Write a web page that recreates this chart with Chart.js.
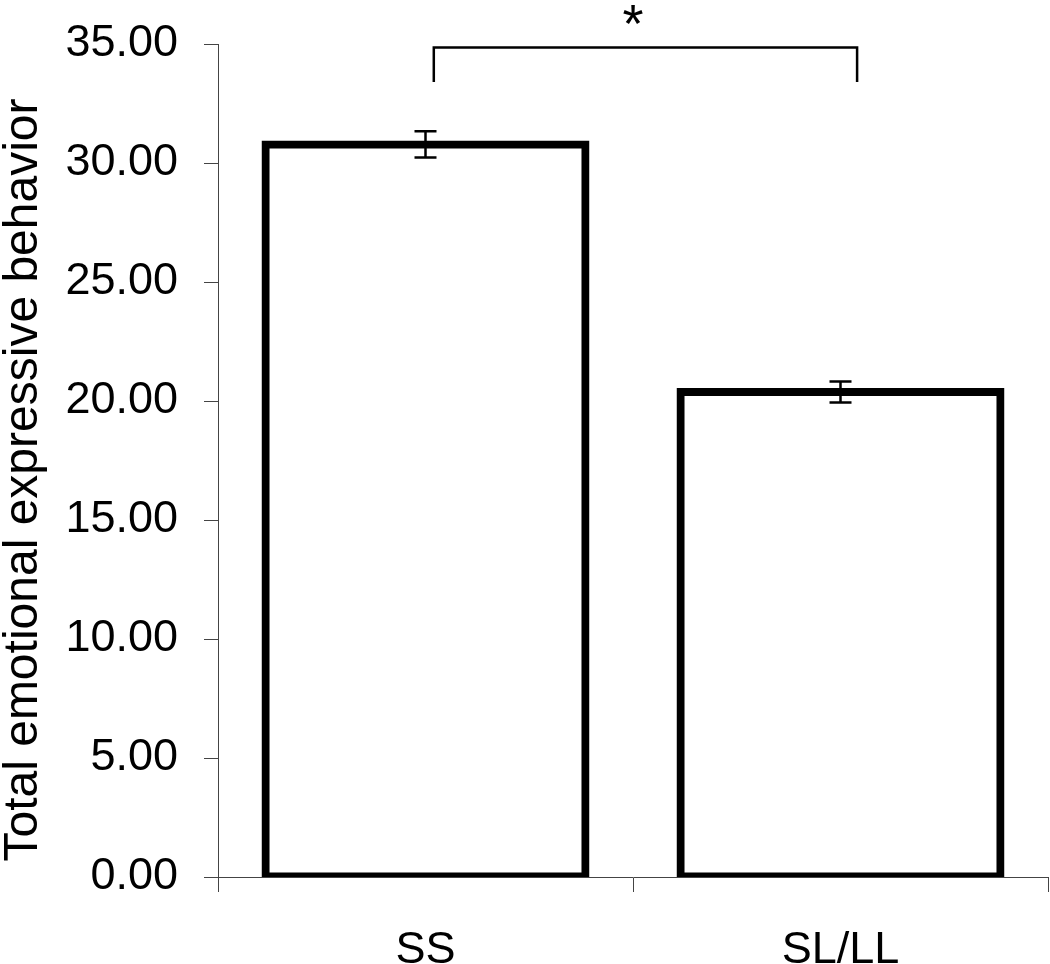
<!DOCTYPE html>
<html>
<head>
<meta charset="utf-8">
<script src="https://cdn.jsdelivr.net/npm/chart.js@4.4.1/dist/chart.umd.min.js"></script>
<style>
html, body { margin: 0; padding: 0; background: #fff; }
#wrap { width: 1050px; height: 964px; }
</style>
</head>
<body>
<div id="wrap"><canvas id="myChart"></canvas></div>
<script>
// groups and means
var groups = ['SS', 'SL/LL'];
var means = [30.78, 20.38];
var errors = [0.55, 0.44];
var yTicks = [0, 5, 10, 15, 20, 25, 30, 35];
var yTitle = 'Total emotional expressive behavior';
// significance bracket: from group 0 to group 1, top and foot values
var bracketFrom = 0.02, bracketTo = 1.04;
var bracketTop = 34.85, bracketFoot = 33.4;
var sigMark = '*';

var FONT = '"Liberation Sans", Arial, sans-serif';
var ctx = document.getElementById('myChart').getContext('2d');

// error bars, bracket, asterisk and the y title
var extras = {
    id: 'extras',
    afterDatasetsDraw: function(chart) {
        var c = chart.ctx, x = chart.scales.x, y = chart.scales.y;
        c.save();
        c.strokeStyle = '#000';
        c.lineWidth = 2.5;
        for (var i = 0; i < means.length; i++) {
            var px = x.getPixelForValue(i);
            var hi = y.getPixelForValue(means[i] + errors[i]);
            var lo = y.getPixelForValue(means[i] - errors[i]);
            c.beginPath();
            c.moveTo(px, hi); c.lineTo(px, lo);
            c.moveTo(px - 11, hi); c.lineTo(px + 11, hi);
            c.moveTo(px - 11, lo); c.lineTo(px + 11, lo);
            c.stroke();
        }
        var bx1 = x.getPixelForValue(bracketFrom), bx2 = x.getPixelForValue(bracketTo);
        var by = y.getPixelForValue(bracketTop), bf = y.getPixelForValue(bracketFoot);
        c.beginPath();
        c.moveTo(bx1, bf); c.lineTo(bx1, by); c.lineTo(bx2, by); c.lineTo(bx2, bf);
        c.stroke();

        c.fillStyle = '#000';
        c.font = '54px ' + FONT;
        c.textAlign = 'center';
        c.textBaseline = 'alphabetic';
        c.fillText(sigMark, x.getPixelForValue(0.5), 42);

        c.font = '48px ' + FONT;
        c.translate(37, 480);
        c.rotate(-Math.PI / 2);
        c.fillText(yTitle, 0, 0);
        c.restore();
    }
};

var myChart = new Chart(ctx, {
    type: 'bar',
    data: {
        labels: groups,
        datasets: [{
            data: means,
            backgroundColor: '#fff',
            borderColor: '#000',
            borderWidth: 8,
            borderSkipped: false,
            inflateAmount: 4,
            barPercentage: 0.771,
            categoryPercentage: 1
        }]
    },
    options: {
        responsive: true,
        maintainAspectRatio: false,
        animation: false,
        layout: { padding: { top: 44, right: 2, left: 0, bottom: 0 } },
        plugins: { legend: { display: false }, tooltip: { enabled: false } },
        scales: {
            y: {
                min: 0, max: 35,
                afterFit: function(s) { s.width = 218; s.paddingTop = 0; s.paddingBottom = 0; },
                afterBuildTicks: function(s) { s.ticks = yTicks.map(function(v) { return { value: v }; }); },
                ticks: {
                    color: '#000',
                    font: { family: FONT, size: 45 },
                    padding: 26,
                    callback: function(v) { return Number(v).toFixed(2); }
                },
                grid: { drawOnChartArea: false, tickLength: 14, color: '#444', lineWidth: 1 },
                border: { display: true, color: '#444', width: 1 }
            },
            x: {
                afterFit: function(s) { s.height = 87; },
                ticks: {
                    color: '#000',
                    font: { family: FONT, size: 45 },
                    padding: 32
                },
                grid: { offset: true, drawOnChartArea: false, tickLength: 15, color: '#444', lineWidth: 1 },
                border: { display: true, color: '#444', width: 1 }
            }
        }
    },
    plugins: [extras]
});
</script>
</body>
</html>
